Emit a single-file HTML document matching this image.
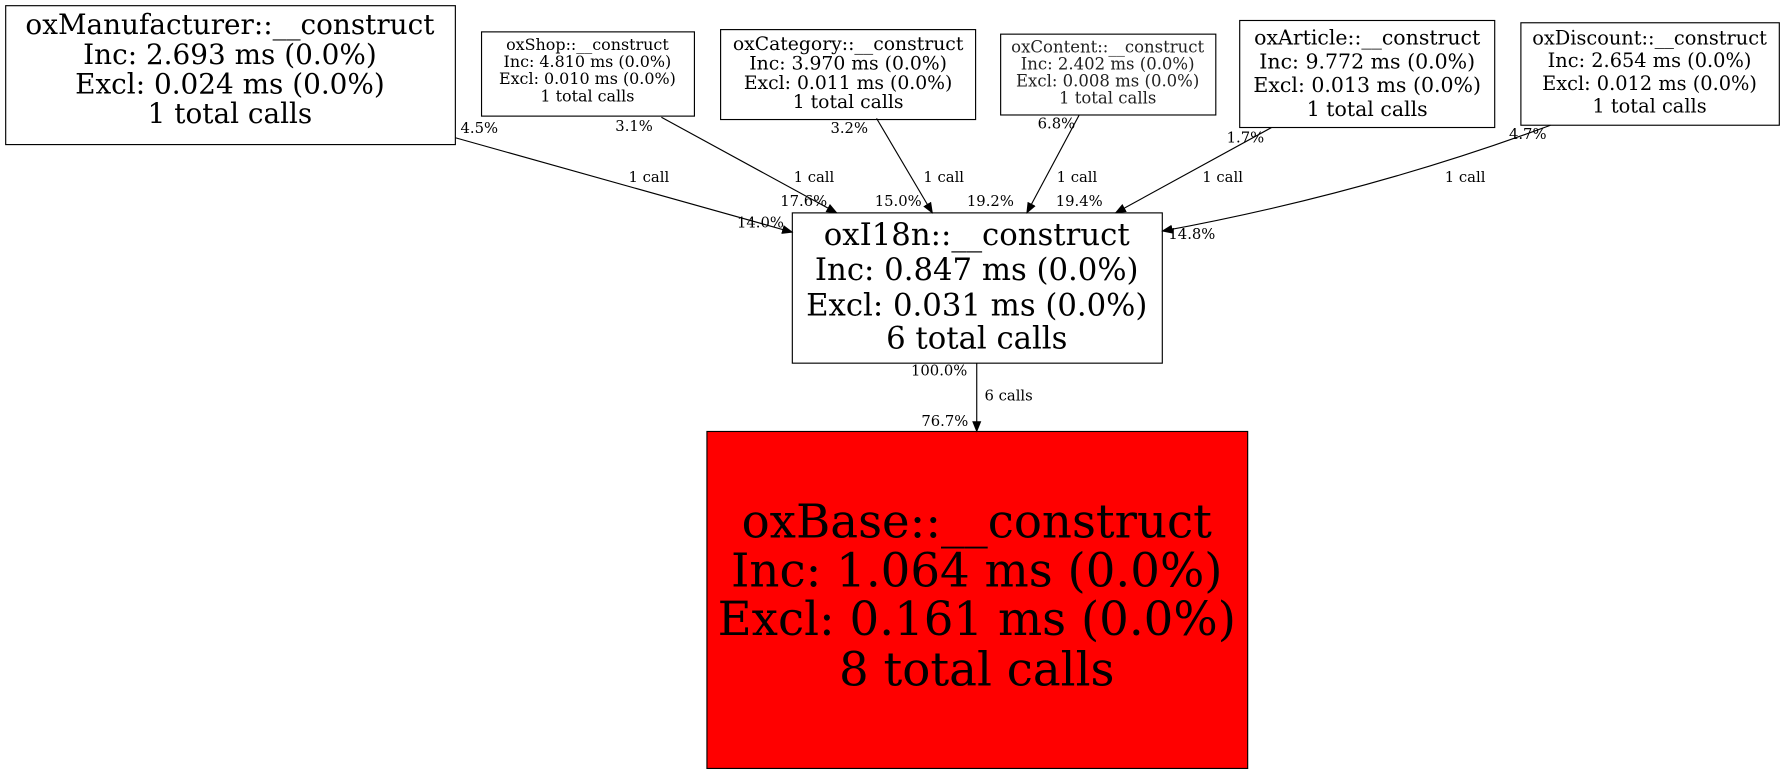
<!DOCTYPE html>
<html><head><meta charset="utf-8"><style>html,body{margin:0;padding:0;background:#fff}svg{display:block}</style></head>
<body>
<svg width="1785" height="773" viewBox="0 0 1568 679" preserveAspectRatio="none" xmlns="http://www.w3.org/2000/svg" font-family="DejaVu Serif, serif" text-anchor="middle">
<defs><marker id="a" markerWidth="10" markerHeight="8" refX="9" refY="4" orient="auto" markerUnits="userSpaceOnUse"><path d="M0,0 L10,4 L0,8 z" fill="#000"/></marker></defs>
<g fill="#fff" stroke="#000" stroke-width="1">
<rect x="5" y="5" width="395" height="122"/>
<rect x="423" y="28" width="187" height="74"/>
<rect x="633" y="26" width="224" height="79"/>
<rect x="879" y="30" width="189" height="71"/>
<rect x="1089" y="18" width="224" height="94"/>
<rect x="1336" y="20" width="227" height="90"/>
<rect x="696" y="187" width="325" height="132"/>
<rect x="621" y="379" width="475" height="296" fill="#f00"/>
</g>
<g stroke="#000" fill="none" stroke-width="1" marker-end="url(#a)">
<path d="M400,121 L696,204"/>
<path d="M581,103 L735,187"/>
<path d="M770,104 L819,187"/>
<path d="M948,101 L902,187"/>
<path d="M1117,112 L980,187"/>
<path d="M1362,110 Q1200,170 1021,203"/>
<path d="M858,319 L858,379"/>
</g>
<g font-size="24.5"><text x="202" y="30">oxManufacturer::__construct</text><text x="202" y="56">Inc: 2.693 ms (0.0%)</text><text x="202" y="82">Excl: 0.024 ms (0.0%)</text><text x="202" y="108">1 total calls</text></g>
<g font-size="14"><text x="516" y="44">oxShop::__construct</text><text x="516" y="59">Inc: 4.810 ms (0.0%)</text><text x="516" y="74">Excl: 0.010 ms (0.0%)</text><text x="516" y="89">1 total calls</text></g>
<g font-size="16.5"><text x="745" y="44">oxCategory::__construct</text><text x="745" y="61">Inc: 3.970 ms (0.0%)</text><text x="745" y="78">Excl: 0.011 ms (0.0%)</text><text x="745" y="95">1 total calls</text></g>
<g font-size="14.5" fill="#222"><text x="973" y="46">oxContent::__construct</text><text x="973" y="61">Inc: 2.402 ms (0.0%)</text><text x="973" y="76">Excl: 0.008 ms (0.0%)</text><text x="973" y="91">1 total calls</text></g>
<g font-size="18"><text x="1201" y="39">oxArticle::__construct</text><text x="1201" y="60">Inc: 9.772 ms (0.0%)</text><text x="1201" y="81">Excl: 0.013 ms (0.0%)</text><text x="1201" y="102">1 total calls</text></g>
<g font-size="17"><text x="1449" y="39">oxDiscount::__construct</text><text x="1449" y="59">Inc: 2.654 ms (0.0%)</text><text x="1449" y="79">Excl: 0.012 ms (0.0%)</text><text x="1449" y="99">1 total calls</text></g>
<g font-size="27"><text x="858" y="215">oxI18n::__construct</text><text x="858" y="246">Inc: 0.847 ms (0.0%)</text><text x="858" y="277">Excl: 0.031 ms (0.0%)</text><text x="858" y="306">6 total calls</text></g>
<g font-size="41"><text x="858" y="472">oxBase::__construct</text><text x="858" y="515">Inc: 1.064 ms (0.0%)</text><text x="858" y="558">Excl: 0.161 ms (0.0%)</text><text x="858" y="602">8 total calls</text></g>
<g font-size="13">
<text x="421" y="117">4.5%</text><text x="570" y="160">1 call</text><text x="668" y="200">14.0%</text>
<text x="557" y="115">3.1%</text><text x="715" y="160">1 call</text><text x="706" y="181">17.6%</text>
<text x="746" y="117">3.2%</text><text x="829" y="160">1 call</text><text x="789" y="181">15.0%</text>
<text x="928" y="113">6.8%</text><text x="946" y="160">1 call</text><text x="870" y="181">19.2%</text>
<text x="1094" y="125">1.7%</text><text x="1074" y="160">1 call</text><text x="948" y="181">19.4%</text>
<text x="1342" y="122">4.7%</text><text x="1287" y="160">1 call</text><text x="1047" y="210">14.8%</text>
<text x="825" y="330">100.0%</text><text x="886" y="352">6 calls</text><text x="830" y="374">76.7%</text>
</g>
</svg>
</body></html>
